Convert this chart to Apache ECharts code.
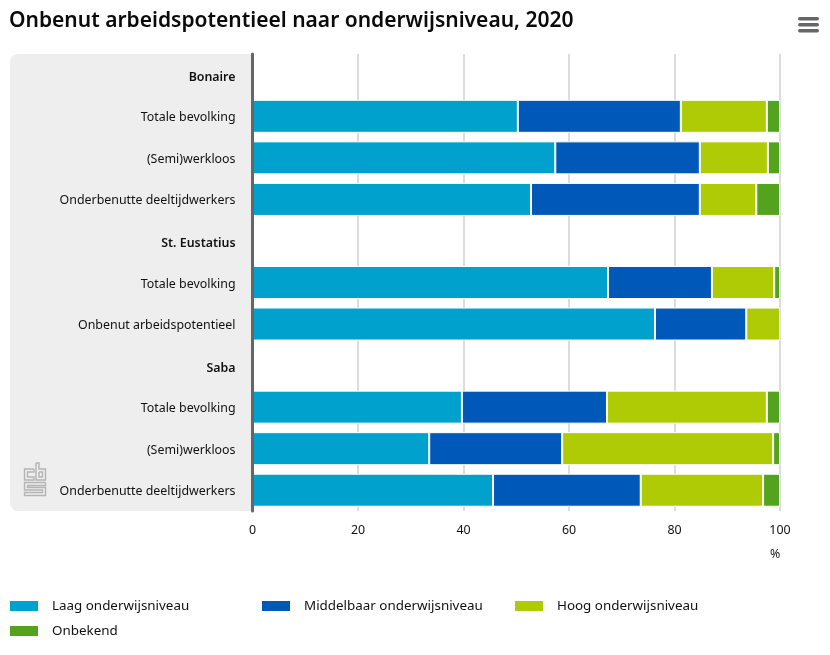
<!DOCTYPE html>
<html>
<head>
<meta charset="utf-8">
<script src="https://cdn.jsdelivr.net/npm/echarts@6/dist/echarts.min.js"></script>
<style>
html, body { margin: 0; padding: 0; background: #fff; }
#chart { width: 830px; height: 655px; }
</style>
</head>
<body>
<div id="chart"></div>
<script>
var categories = ['Bonaire', 'Totale bevolking', '(Semi)werkloos', 'Onderbenutte deeltijdwerkers',
    'St. Eustatius', 'Totale bevolking', 'Onbenut arbeidspotentieel',
    'Saba', 'Totale bevolking', '(Semi)werkloos', 'Onderbenutte deeltijdwerkers'];
var headers = [0, 4, 7];
var laag = [null, 50.3, 57.4, 52.8, null, 67.4, 76.3, null, 39.7, 33.5, 45.6];
var middelbaar = [null, 30.9, 27.4, 32.0, null, 19.7, 17.3, null, 27.5, 25.2, 28.0];
var hoog = [null, 16.3, 12.9, 10.7, null, 11.8, 6.4, null, 30.3, 40.0, 23.2];
var onbekend = [null, 2.5, 2.3, 4.5, null, 1.1, null, null, 2.5, 1.3, 3.2];
var seriesNames = ['Laag onderwijsniveau', 'Middelbaar onderwijsniveau', 'Hoog onderwijsniveau', 'Onbekend'];
var colors = ['#00a1cd', '#0058b8', '#afcb05', '#53a31d'];

var font = '"Noto Sans", sans-serif';
var chart = echarts.init(document.getElementById('chart'), null, { renderer: 'canvas' });

function bar(name, values, color) {
    return {
        name: name,
        type: 'bar',
        stack: 'total',
        barWidth: 33,
        data: values,
        itemStyle: { color: color, borderColor: '#fff', borderWidth: 1 },
        emphasis: { disabled: true }
    };
}

function legendAt(name, left, top) {
    return {
        data: [name],
        left: left,
        top: top,
        padding: 0,
        itemWidth: 30,
        itemHeight: 12,
        itemGap: 0,
        icon: 'rect',
        selectedMode: false,
        textStyle: { fontFamily: font, fontSize: 13.4, color: '#111', padding: [0, 0, 0, 8] }
    };
}

// cbs logo, drawn as outlines on the grey panel
function logoLine(points) {
    return {
        type: 'polyline',
        z: 1,
        shape: { points: points },
        style: { stroke: '#b4b4b4', lineWidth: 1.4, fill: null }
    };
}

var option = {
    animation: false,
    textStyle: { fontFamily: font },
    title: {
        text: 'Onbenut arbeidspotentieel naar onderwijsniveau, 2020',
        left: 9,
        top: 11,
        padding: 0,
        textStyle: { fontFamily: font, fontSize: 21, fontWeight: 600, color: '#0a0a0a' }
    },
    legend: [
        legendAt(seriesNames[0], 8, 599),
        legendAt(seriesNames[1], 260, 599),
        legendAt(seriesNames[2], 513, 599),
        legendAt(seriesNames[3], 8, 624)
    ],
    grid: { left: 252.5, right: 50, top: 54, bottom: 144 },
    xAxis: {
        type: 'value',
        min: 0,
        max: 100,
        interval: 20,
        name: '%',
        nameLocation: 'end',
        nameGap: -10,
        nameTextStyle: { fontSize: 12.4, color: '#222', verticalAlign: 'top', padding: [37, 0, 0, 0] },
        axisLine: { show: false },
        axisTick: { show: false },
        axisLabel: { fontSize: 12.4, color: '#111', margin: 13 },
        splitLine: { show: true, lineStyle: { color: '#dcdcdc', width: 2 } }
    },
    yAxis: {
        type: 'category',
        inverse: true,
        data: categories,
        axisLine: { show: true, lineStyle: { color: '#666', width: 3 } },
        axisTick: { show: false },
        axisLabel: {
            margin: 17,
            formatter: function (value, index) {
                return (headers.indexOf(index) >= 0 ? '{head|' : '{row|') + value + '}';
            },
            rich: {
                head: { fontFamily: font, fontSize: 12.4, fontWeight: 600, color: '#111', padding: [5, 0, 0, 0] },
                row: { fontFamily: font, fontSize: 12.4, color: '#111', padding: [3, 0, 0, 0] }
            }
        },
        splitLine: { show: false },
        z: 5
    },
    series: [
        bar(seriesNames[0], laag, colors[0]),
        bar(seriesNames[1], middelbaar, colors[1]),
        bar(seriesNames[2], hoog, colors[2]),
        bar(seriesNames[3], onbekend, colors[3])
    ],
    graphic: [
        {
            type: 'rect',
            z: 0,
            shape: { x: 10, y: 54, width: 241, height: 457, r: [8, 0, 0, 8] },
            style: { fill: '#eeeeee' }
        },
        logoLine([[34, 469], [24.5, 469], [24.5, 480], [34, 480], [34, 477], [27.5, 477], [27.5, 472], [34, 472], [34, 469]]),
        logoLine([[36, 463], [39, 463], [39, 469], [45.5, 469], [45.5, 480], [36, 480], [36, 463]]),
        logoLine([[39, 472], [42.5, 472], [42.5, 477], [39, 477], [39, 472]]),
        logoLine([[45.5, 482.5], [24.5, 482.5], [24.5, 490], [42.5, 490], [42.5, 492.5], [24.5, 492.5], [24.5, 495.5], [45.5, 495.5], [45.5, 487.5], [27.5, 487.5], [27.5, 485.5], [45.5, 485.5], [45.5, 482.5]]),
        { type: 'rect', shape: { x: 798, y: 17, width: 21, height: 3.5, r: 1.7 }, style: { fill: '#666' } },
        { type: 'rect', shape: { x: 798, y: 23, width: 21, height: 3.5, r: 1.7 }, style: { fill: '#666' } },
        { type: 'rect', shape: { x: 798, y: 29, width: 21, height: 3.5, r: 1.7 }, style: { fill: '#666' } }
    ]
};
chart.setOption(option);
</script>
</body>
</html>
